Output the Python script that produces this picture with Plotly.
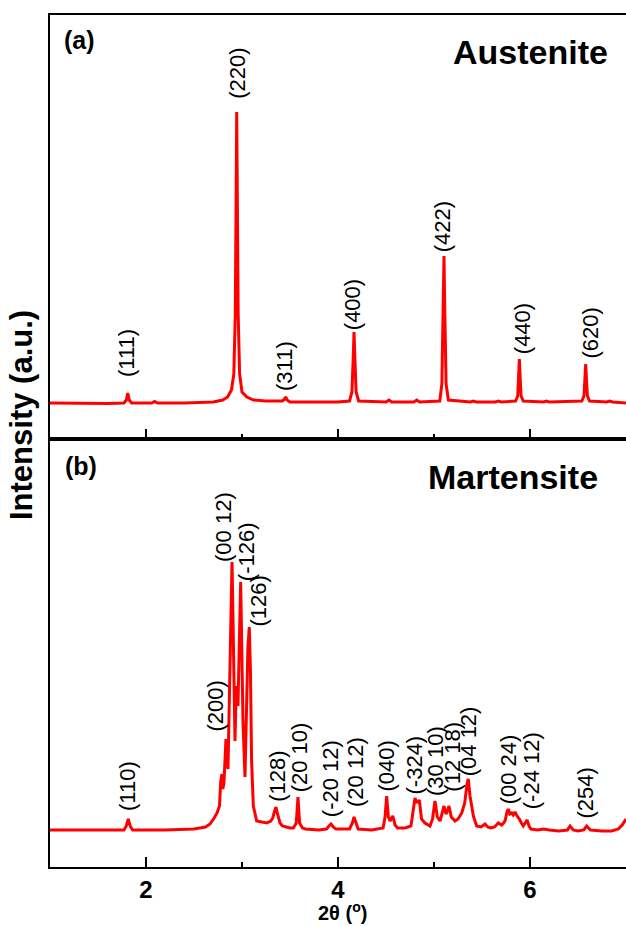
import plotly.graph_objects as go

# ---------------- data ----------------
# Panel (a) Austenite: 2theta (deg) and intensity (a.u.)
aust_2theta = [1.00, 1.30, 1.60, 1.77, 1.795, 1.81, 1.825, 1.85, 2.06, 2.09, 2.12, 2.40,
               2.70, 2.80, 2.85, 2.89, 2.915, 2.93, 2.938, 2.945, 2.952, 2.96, 2.975, 3.00,
               3.05, 3.12, 3.25, 3.42, 3.445, 3.455, 3.47, 3.50, 3.70, 4.00, 4.12, 4.145,
               4.158, 4.167, 4.176, 4.189, 4.215, 4.50, 4.53, 4.56, 4.79, 4.82, 4.85, 5.00,
               5.06, 5.082, 5.095, 5.104, 5.113, 5.126, 5.15, 5.38, 5.41, 5.44, 5.64, 5.67,
               5.70, 5.85, 5.872, 5.882, 5.889, 5.897, 5.907, 5.93, 6.14, 6.17, 6.20, 6.54,
               6.562, 6.572, 6.58, 6.588, 6.598, 6.62, 6.80, 6.83, 6.86, 7.00]
aust_int = [1, 0.5, 0.5, 1, 4, 11, 4, 1, 1, 2.5, 1, 1,
            2, 4, 7, 14, 30, 90, 200, 292, 200, 90, 30, 12,
            7, 4, 3, 3, 5, 7, 4, 2, 2, 2, 3, 12,
            45, 72, 45, 12, 3, 2, 4, 2, 2, 4, 2, 3,
            3, 20, 90, 148, 90, 20, 4, 2, 3, 2, 2, 3,
            2, 3, 8, 28, 45, 28, 8, 3, 2, 3, 2, 3,
            8, 25, 40, 25, 8, 3, 2, 3, 2, 1]

aust_labels = ["(111)", "(220)", "(311)", "(400)", "(422)", "(440)", "(620)"]
aust_label_x = [1.792, 2.951, 3.4375, 4.153, 5.091, 5.924, 6.625]
aust_label_y = [26, 304, 12, 73, 151, 49, 44]

# Panel (b) Martensite
mart_2theta = [1.00, 1.40, 1.77, 1.795, 1.815, 1.835, 1.86, 2.20, 2.50, 2.62, 2.667, 2.71,
               2.74, 2.765, 2.779, 2.792, 2.80, 2.812, 2.82, 2.833, 2.845, 2.854, 2.872, 2.887,
               2.896, 2.905, 2.918, 2.927, 2.938, 2.948, 2.958, 2.968, 2.978, 2.986, 2.995, 3.01,
               3.031, 3.045, 3.062, 3.076, 3.088, 3.10, 3.118, 3.153, 3.20, 3.257, 3.30, 3.32,
               3.34, 3.354, 3.37, 3.396, 3.42, 3.50, 3.535, 3.565, 3.583, 3.60, 3.63, 3.66,
               3.80, 3.88, 3.905, 3.927, 3.95, 3.98, 4.12, 4.15, 4.167, 4.185, 4.21, 4.35,
               4.47, 4.49, 4.507, 4.525, 4.542, 4.57, 4.595, 4.62, 4.70, 4.76, 4.785, 4.802,
               4.825, 4.847, 4.87, 4.906, 4.958, 4.985, 5.01, 5.035, 5.063, 5.085, 5.104, 5.125,
               5.14, 5.156, 5.18, 5.219, 5.25, 5.289, 5.32, 5.345, 5.357, 5.375, 5.41, 5.444,
               5.49, 5.531, 5.56, 5.59, 5.63, 5.67, 5.705, 5.725, 5.74, 5.76, 5.774, 5.79,
               5.809, 5.825, 5.844, 5.865, 5.889, 5.91, 5.93, 5.95, 5.97, 5.99, 6.01, 6.08,
               6.14, 6.20, 6.30, 6.39, 6.417, 6.45, 6.50, 6.56, 6.59, 6.63, 6.75, 6.85,
               6.92, 6.96, 7.00]
mart_int = [1, 1, 1, 5, 12, 5, 1, 1, 2, 4, 7, 13,
            18, 25, 50, 57, 42, 48, 70, 92, 70, 62, 150, 250,
            269, 220, 120, 90, 135, 145, 125, 170, 235, 249, 200, 110,
            54, 110, 185, 204, 160, 70, 25, 10, 9, 8, 10, 13,
            20, 24, 17, 8, 5, 3, 3, 8, 34, 8, 3, 2,
            1, 2, 5, 7, 4, 2, 2, 8, 14, 8, 2, 1,
            3, 14, 35, 14, 10, 15, 6, 3, 3, 5, 20, 33,
            28, 31, 12, 8, 5, 12, 30, 14, 10, 17, 25, 17,
            20, 25, 14, 10, 12, 18, 28, 48, 52, 35, 15, 5,
            4, 7, 4, 3, 4, 8, 6, 8, 10, 19, 22, 17,
            18, 16, 19, 15, 12, 8, 5, 8, 11, 5, 2, 1,
            2, 1, 0, 1, 5, 1, 0, 1, 5, 1, 0, 0,
            2, 6, 12]

mart_labels = ["(110)", "(200)", "(00 12)", "(-126)", "(126)", "(128)", "(20 10)",
               "(-20 12)", "(20 12)", "(040)", "(-324)", "(30 10)", "(12 18)", "(04 12)",
               "(00 24)", "(-24 12)", "(254)"]
mart_label_x = [1.802, 2.729, 2.802, 3.049, 3.177, 3.368, 3.597, 3.924, 4.177, 4.510,
                4.802, 5.010, 5.184, 5.357, 5.774, 6.018, 6.573]
mart_label_y = [19, 99, 268, 249, 204, 28, 38, 13, 23, 39, 36, 34, 38, 54, 26, 21, 11]

x_range = [1, 7]
aust_y_range = [-35, 389]
mart_y_range = [-36, 392]

# ---------------- figure ----------------
FONT = "Liberation Sans, Arial, sans-serif"
RED = "#FF0000"

fig = go.Figure()
fig.add_trace(go.Scatter(x=aust_2theta, y=aust_int, mode="lines",
                         line=dict(color=RED, width=3), xaxis="x2", yaxis="y2",
                         showlegend=False, hoverinfo="skip"))
fig.add_trace(go.Scatter(x=mart_2theta, y=mart_int, mode="lines",
                         line=dict(color=RED, width=3), xaxis="x", yaxis="y",
                         showlegend=False, hoverinfo="skip"))

split = (867 - 439) / 852.0

common_x = dict(range=x_range, showline=True, linecolor="black", linewidth=2,
                mirror=True, ticks="inside", ticklen=10, tickwidth=2, tickcolor="black",
                dtick=2, tick0=0, showgrid=False, zeroline=False,
                minor=dict(ticks="inside", ticklen=5, tickwidth=2, tickcolor="black",
                           dtick=1, tick0=0, showgrid=False))

fig.update_layout(
    width=626, height=926,
    margin=dict(l=50, r=0, t=15, b=59),
    paper_bgcolor="white", plot_bgcolor="white",
    font=dict(family=FONT, color="black"),
    xaxis=dict(**common_x, anchor="y",
               tickfont=dict(family=FONT, size=24, color="black", weight="bold")),
    yaxis=dict(domain=[0, split], range=mart_y_range, showline=True, linecolor="black",
               linewidth=2, showticklabels=False, ticks="", showgrid=False,
               zeroline=False, mirror=False),
    xaxis2=dict(**common_x, anchor="y2", showticklabels=False, matches="x"),
    yaxis2=dict(domain=[split, 1], range=aust_y_range, showline=True, linecolor="black",
                linewidth=2, showticklabels=False, ticks="", showgrid=False,
                zeroline=False, mirror=False),
)

annotations = []
for t, x, y in zip(aust_labels, aust_label_x, aust_label_y):
    annotations.append(dict(text=t, x=x, y=y, xref="x2", yref="y2", showarrow=False,
                            textangle=-90, xanchor="center", yanchor="bottom",
                            borderpad=0, font=dict(family=FONT, size=22, color="black")))
for t, x, y in zip(mart_labels, mart_label_x, mart_label_y):
    annotations.append(dict(text=t, x=x, y=y, xref="x", yref="y", showarrow=False,
                            textangle=-90, xanchor="center", yanchor="bottom",
                            borderpad=0, font=dict(family=FONT, size=22, color="black")))


def px_x(px):
    return (px - 50) / 576.0


def px_y(py):
    return (867 - py) / 852.0


annotations += [
    dict(text="(a)", x=px_x(62), y=px_y(40), xref="paper", yref="paper", showarrow=False,
         xanchor="left", yanchor="middle",
         font=dict(family=FONT, size=25, color="black", weight="bold")),
    dict(text="Austenite", x=px_x(610), y=px_y(52), xref="paper", yref="paper",
         showarrow=False, xanchor="right", yanchor="middle",
         font=dict(family=FONT, size=34, color="black", weight="bold")),
    dict(text="(b)", x=px_x(63), y=px_y(466), xref="paper", yref="paper", showarrow=False,
         xanchor="left", yanchor="middle",
         font=dict(family=FONT, size=25, color="black", weight="bold")),
    dict(text="Martensite", x=px_x(600), y=px_y(477), xref="paper", yref="paper",
         showarrow=False, xanchor="right", yanchor="middle",
         font=dict(family=FONT, size=34, color="black", weight="bold")),
    dict(text="Intensity (a.u.)", x=px_x(21), y=px_y(522), xref="paper", yref="paper",
         showarrow=False, textangle=-90, xanchor="center", yanchor="bottom",
         font=dict(family=FONT, size=31, color="black", weight="bold")),
    dict(text="2θ (<sup>o</sup>)", x=px_x(342), y=px_y(897), xref="paper", yref="paper",
         showarrow=False, xanchor="center", yanchor="top",
         font=dict(family=FONT, size=20, color="black", weight="bold")),
]
fig.update_layout(annotations=annotations)

fig.write_html("out.html")
